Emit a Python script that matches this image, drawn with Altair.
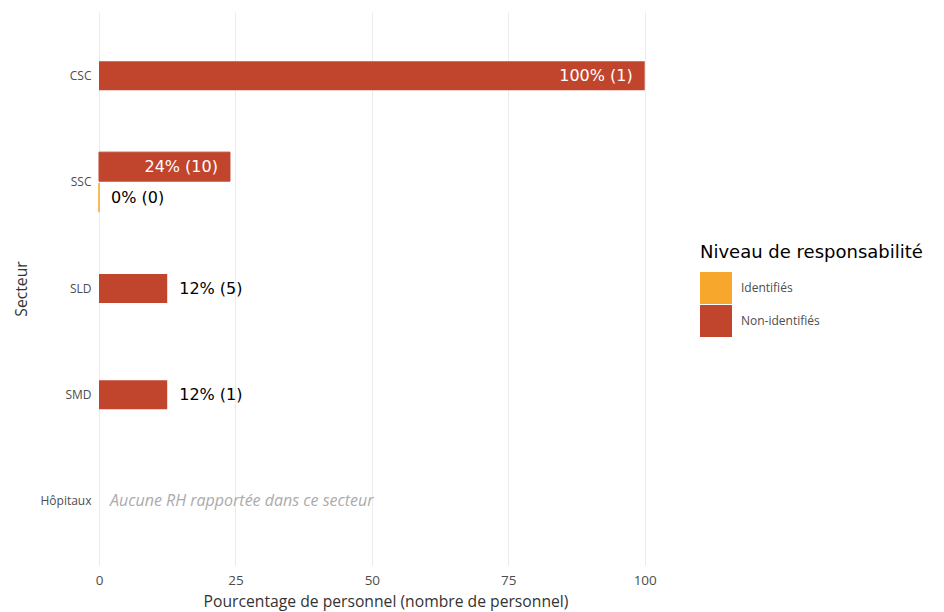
import altair as alt
import pandas as pd

# ---- data ----
secteurs = ["CSC", "SSC", "SLD", "SMD", "Hôpitaux"]
bar_secteur = ["CSC", "SSC", "SSC", "SLD", "SMD"]
bar_niveau = ["Non-identifiés", "Non-identifiés", "Identifiés", "Non-identifiés", "Non-identifiés"]
bar_pct = [100, 24, 0, 12.5, 12.5]
bar_label = ["100% (1)", "24% (10)", "0% (0)", "12% (5)", "12% (1)"]
bar_dodge = [False, True, True, False, False]
niveaux = ["Identifiés", "Non-identifiés"]
ordre_dodge = ["Non-identifiés", "Identifiés"]
couleurs = ["#F7A72B", "#C1452C"]
x_ticks = [0, 25, 50, 75, 100]
x_domain = [0, 105]
vide_secteur = ["Hôpitaux"]
vide_pct = [0]
vide_texte = ["Aucune RH rapportée dans ce secteur"]

df = pd.DataFrame({
    "secteur": bar_secteur,
    "niveau": bar_niveau,
    "pct": bar_pct,
    "label": bar_label,
    "dodge": bar_dodge,
})
df["interieur"] = df["pct"] > 20
vide = pd.DataFrame({"secteur": vide_secteur, "pct": vide_pct, "texte": vide_texte})

W, H = 573, 553
xs = alt.Scale(domain=x_domain, nice=False, zero=True)
ys = alt.Scale(domain=secteurs, paddingInner=0, paddingOuter=0.1)
offs = alt.Scale(domain=ordre_dodge, paddingInner=0.0645, paddingOuter=0.747)

x_enc = alt.X(
    "pct:Q", scale=xs,
    title="Pourcentage de personnel (nombre de personnel)",
    axis=alt.Axis(values=x_ticks, grid=True, gridColor="#EBEBEB", gridWidth=1,
                  domain=False, ticks=False, labelPadding=8, labelFlush=False,
                  labelFont="Open Sans", labelFontSize=13.5, labelColor="#4D4D4D",
                  titleFont="Open Sans", titleFontSize=15.7, titleFontWeight="normal",
                  titleColor="#333333", titlePadding=8),
)
y_enc = alt.Y(
    "secteur:N", scale=ys, sort=secteurs, title="Secteur",
    axis=alt.Axis(domain=False, ticks=False, grid=False, labelPadding=8,
                  labelFont="Open Sans", labelFontSize=12, labelColor="#4D4D4D",
                  titleFont="Open Sans", titleFontSize=15.7, titleFontWeight="normal",
                  titleColor="#333333", titlePadding=10),
)
color_enc = alt.Color(
    "niveau:N", scale=alt.Scale(domain=niveaux, range=couleurs),
    title="Niveau de responsabilité",
    legend=alt.Legend(orient="none", legendX=601, legendY=232,
                      titleFont="DejaVu Sans", titleFontSize=18, titleFontWeight="normal",
                      titleColor="#000000", titlePadding=10, titleLimit=400,
                      labelFont="Open Sans", labelFontSize=12, labelColor="#4D4D4D",
                      labelOffset=9, symbolType="square", symbolSize=1024,
                      symbolStrokeWidth=0, rowPadding=1, padding=0),
)
stroke_enc = alt.Stroke("niveau:N", scale=alt.Scale(domain=niveaux, range=couleurs), legend=None)

base = alt.Chart(df)

bars_single = base.transform_filter("!datum.dodge").mark_bar(size=29).encode(
    x=x_enc, y=y_enc, color=color_enc
)
bars_dodge = base.transform_filter("datum.dodge").mark_bar(strokeWidth=1).encode(
    x=x_enc, y=y_enc, yOffset=alt.YOffset("niveau:N", scale=offs), color=color_enc,
    stroke=stroke_enc,
)


def textes(dodge, inside):
    filt = ("" if dodge else "!") + "datum.dodge && " + ("" if inside else "!") + "datum.interieur"
    mark = dict(align="right" if inside else "left", dx=-12 if inside else 12,
                color="white" if inside else "black", font="DejaVu Sans",
                fontSize=16, baseline="middle")
    enc = dict(x=x_enc, y=y_enc, text="label:N")
    if dodge:
        enc["yOffset"] = alt.YOffset("niveau:N", scale=offs)
    return base.transform_filter(filt).mark_text(**mark).encode(**enc)


vide_layer = alt.Chart(vide).mark_text(
    align="left", dx=11, baseline="middle", font="Open Sans", fontStyle="italic",
    fontSize=16, color="#ABABAB"
).encode(x=x_enc, y=y_enc, text="texte:N")

chart = alt.layer(
    bars_single, bars_dodge,
    textes(False, True), textes(False, False), textes(True, True), textes(True, False),
    vide_layer,
).properties(
    width=W, height=H,
    autosize=alt.AutoSizeParams(type="none"),
    padding={"left": 91, "top": 4, "right": 264, "bottom": 47},
    background="white",
).configure_view(stroke=None)

chart.save("out.html", embed_options={"renderer": "svg", "actions": False})
